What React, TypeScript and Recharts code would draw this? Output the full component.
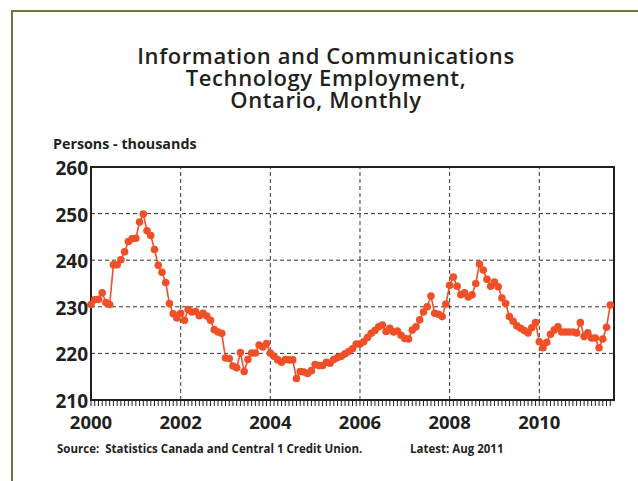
import React from "react";
import { LineChart, Line, XAxis, YAxis, CartesianGrid, ReferenceLine, ReferenceArea } from "recharts";

// Monthly values (thousands of persons), Jan 2000 .. Aug 2011
const values2000 = [230.5, 231.5, 231.6, 233.0, 230.9, 230.5, 239.0, 239.0, 240.1, 241.8, 244.0, 244.6];
const values2001 = [244.7, 248.2, 249.9, 246.3, 245.3, 242.3, 238.9, 237.4, 235.2, 230.7, 228.5, 227.6];
const values2002 = [228.6, 227.1, 229.4, 228.9, 229.0, 228.1, 228.6, 228.0, 227.1, 225.1, 224.6, 224.3];
const values2003 = [219.0, 218.9, 217.3, 216.9, 220.2, 216.1, 218.7, 220.1, 220.1, 221.8, 221.4, 222.1];
const values2004 = [220.1, 219.4, 218.6, 218.1, 218.7, 218.6, 218.6, 214.6, 216.1, 216.0, 215.7, 216.3];
const values2005 = [217.6, 217.4, 217.4, 218.1, 217.9, 218.7, 219.1, 219.4, 219.9, 220.4, 221.0, 222.0];
const values2006 = [222.0, 222.5, 223.4, 224.3, 224.9, 225.7, 226.1, 224.7, 225.4, 224.6, 224.8, 223.9];
const values2007 = [223.2, 223.1, 225.0, 225.7, 227.2, 228.9, 230.0, 232.3, 228.6, 228.4, 227.9, 230.6];
const values2008 = [234.6, 236.4, 234.4, 232.6, 233.0, 232.1, 232.6, 235.0, 239.2, 237.9, 235.9, 234.4];
const values2009 = [235.3, 234.3, 231.9, 230.7, 227.9, 226.9, 225.9, 225.4, 224.9, 224.4, 225.5, 226.6];
const values2010 = [222.5, 221.2, 222.4, 224.1, 225.0, 225.7, 224.6, 224.6, 224.6, 224.6, 224.4, 226.6];
const values2011 = [223.6, 224.4, 223.3, 223.3, 221.2, 223.1, 225.6, 230.4];

const yearLabels = ["2000", "2002", "2004", "2006", "2008", "2010"];
const yTicks = [210, 220, 230, 240, 250, 260];
const titleLines = ["Information and Communications", "Technology Employment,", "Ontario, Monthly"];

const allValues = [
  ...values2000, ...values2001, ...values2002, ...values2003, ...values2004, ...values2005,
  ...values2006, ...values2007, ...values2008, ...values2009, ...values2010, ...values2011,
];
const data = allValues.map((v, i) => ({ m: i, v }));
const monthTicks = data.map((d) => d.m);
const yearTickPos = yearLabels.map((_, k) => k * 24);

const LINE = "#f04f27";
const INK = "#231f20";
const FONT = "'Open Sans', 'Noto Sans', sans-serif";

const XTick = (props: any) => {
  const { x, y, payload } = props;
  const idx = yearTickPos.indexOf(payload.value);
  return (
    <g>
      <line x1={x} x2={x} y1={y} y2={y + 6} stroke={INK} strokeWidth={1} />
      {idx >= 0 && (
        <text x={x} y={y + 29} textAnchor="middle" fontFamily={FONT} fontWeight={700} fontSize={18.5} fill={INK}>
          {yearLabels[idx]}
        </text>
      )}
    </g>
  );
};

const YTick = (props: any) => {
  const { x, y, payload } = props;
  return (
    <text x={x - 1} y={y + 8} textAnchor="end" fontFamily={FONT} fontWeight={700} fontSize={19} fill={INK}>
      {payload.value}
    </text>
  );
};

export default function App() {
  return (
    <div style={{ position: "absolute", left: 0, top: 0, width: 638, height: 481, background: "#fff", fontFamily: FONT }}>
      <div style={{ position: "absolute", left: 11, top: 10, right: -10, bottom: -10, borderLeft: "2px solid #74743a", borderTop: "2px solid #74743a" }} />
      {titleLines.map((t, k) => (
        <div
          key={t}
          style={{ position: "absolute", left: 76, width: 500, top: 44 + k * 22, textAlign: "center", fontSize: 22, letterSpacing: 0.6, fontWeight: 600, lineHeight: "22px", color: INK }}
        >
          {t}
        </div>
      ))}
      <div style={{ position: "absolute", left: 53, top: 134, fontSize: 14.3, fontWeight: 700, color: INK }}>
        Persons - thousands
      </div>
      <div style={{ position: "absolute", left: 57, top: 441, fontSize: 11.5, fontWeight: 700, color: INK, whiteSpace: "pre" }}>
        Source:  Statistics Canada and Central 1 Credit Union.
      </div>
      <div style={{ position: "absolute", left: 410, top: 441, fontSize: 11.5, fontWeight: 700, color: INK, whiteSpace: "pre" }}>
        Latest: Aug 2011
      </div>
      <div style={{ position: "absolute", left: 0, top: 0 }}>
        <LineChart width={638} height={481} data={data} margin={{ top: 167, right: 24, bottom: 51, left: 0 }}>
          <CartesianGrid vertical={false} stroke="#333" strokeDasharray="4 3" strokeWidth={1} />
          {yearTickPos.slice(1).map((p) => (
            <ReferenceLine key={p} x={p} stroke="#333" strokeDasharray="4 3" strokeWidth={1} />
          ))}
          <XAxis
            dataKey="m"
            type="number"
            domain={[0, 140]}
            ticks={monthTicks}
            interval={0}
            tick={<XTick />}
            tickLine={false}
            tickSize={0}
            tickMargin={0}
            axisLine={false}
            height={30}
          />
          <YAxis
            type="number"
            domain={[210, 260]}
            ticks={yTicks}
            interval={0}
            tick={<YTick />}
            tickLine={false}
            tickSize={0}
            tickMargin={2}
            axisLine={false}
            width={91}
          />
          <ReferenceArea x1={0} x2={140} y1={210} y2={260} fill="none" stroke={INK} strokeWidth={2} ifOverflow="visible" />
          <Line
            type="linear"
            dataKey="v"
            stroke={LINE}
            strokeWidth={1.6}
            dot={{ r: 3.8, fill: LINE, stroke: LINE, strokeWidth: 0 }}
            isAnimationActive={false}
          />
        </LineChart>
      </div>
    </div>
  );
}
